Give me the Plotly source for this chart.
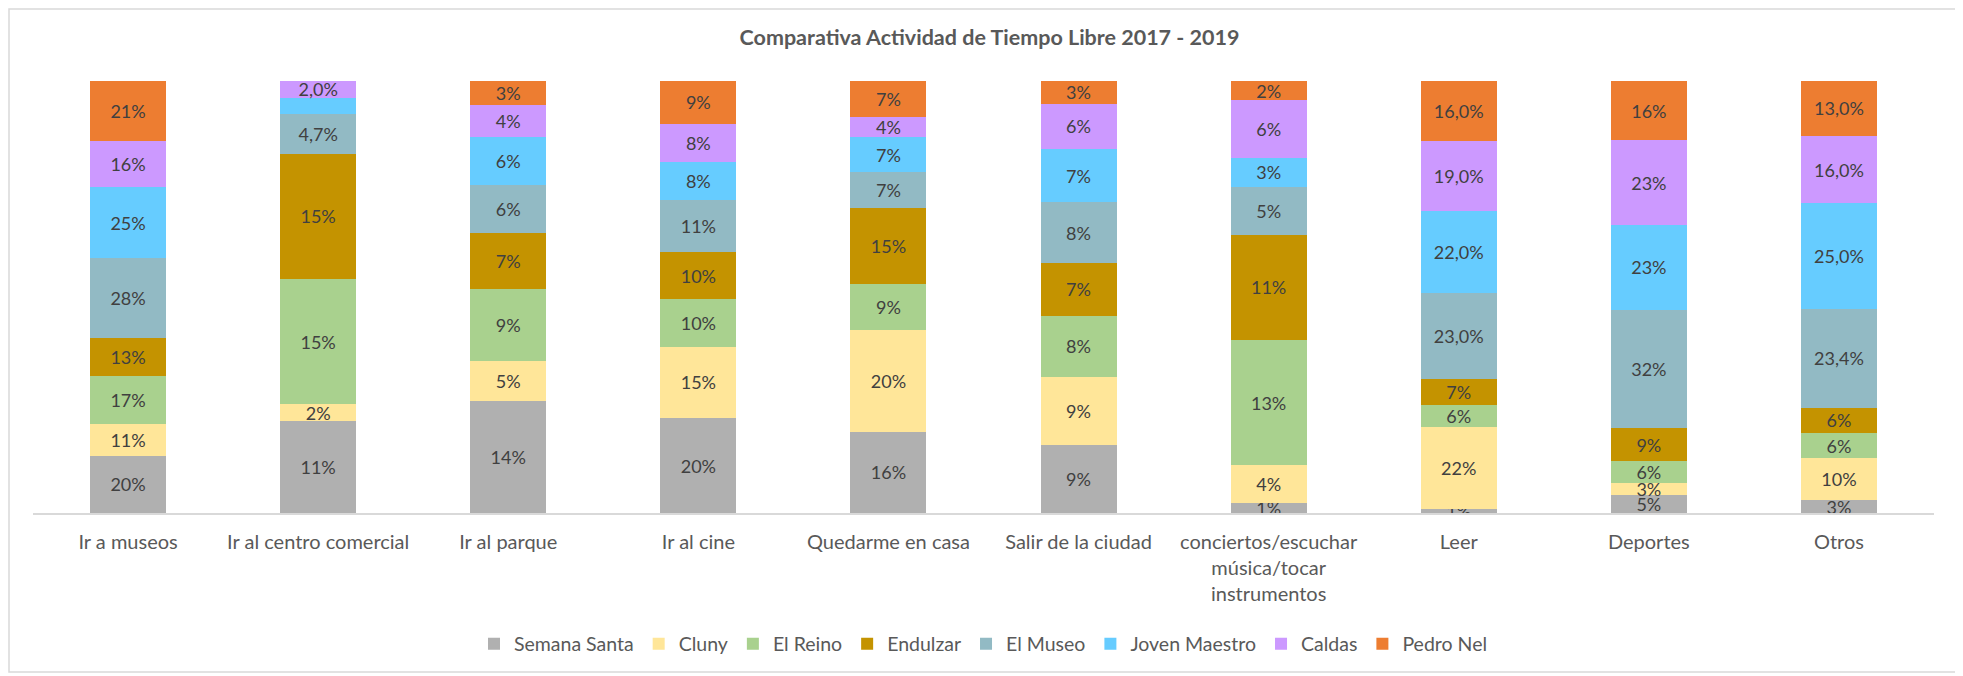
import plotly.graph_objects as go

categories = ["Ir a museos", "Ir al centro comercial", "Ir al parque", "Ir al cine",
              "Quedarme en casa", "Salir de la ciudad",
              "conciertos/escuchar<br>música/tocar<br>instrumentos",
              "Leer", "Deportes", "Otros"]

series_names = ["Semana Santa", "Cluny", "El Reino", "Endulzar", "El Museo",
                "Joven Maestro", "Caldas", "Pedro Nel"]

semana_santa  = [20, 11, 14, 20, 16, 9, 1, 1, 5, 3]
cluny         = [11, 2, 5, 15, 20, 9, 4, 22, 3, 10]
el_reino      = [17, 15, 9, 10, 9, 8, 13, 6, 6, 6]
endulzar      = [13, 15, 7, 10, 15, 7, 11, 7, 9, 6]
el_museo      = [28, 4.7, 6, 11, 7, 8, 5, 23.0, 32, 23.4]
joven_maestro = [25, 2.0, 6, 8, 7, 7, 3, 22.0, 23, 25.0]
caldas        = [16, 2.0, 4, 8, 4, 6, 6, 19.0, 23, 16.0]
pedro_nel     = [21, 0, 3, 9, 7, 3, 2, 16.0, 16, 13.0]

lbl_semana_santa  = ["20%", "11%", "14%", "20%", "16%", "9%", "1%", "1%", "5%", "3%"]
lbl_cluny         = ["11%", "2%", "5%", "15%", "20%", "9%", "4%", "22%", "3%", "10%"]
lbl_el_reino      = ["17%", "15%", "9%", "10%", "9%", "8%", "13%", "6%", "6%", "6%"]
lbl_endulzar      = ["13%", "15%", "7%", "10%", "15%", "7%", "11%", "7%", "9%", "6%"]
lbl_el_museo      = ["28%", "4,7%", "6%", "11%", "7%", "8%", "5%", "23,0%", "32%", "23,4%"]
lbl_joven_maestro = ["25%", "", "6%", "8%", "7%", "7%", "3%", "22,0%", "23%", "25,0%"]
lbl_caldas        = ["16%", "2,0%", "4%", "8%", "4%", "6%", "6%", "19,0%", "23%", "16,0%"]
lbl_pedro_nel     = ["21%", "", "3%", "9%", "7%", "3%", "2%", "16,0%", "16%", "13,0%"]

colors = ["#B0B0B0", "#FFE699", "#A9D18E", "#C49300", "#92BAC4", "#66CCFF", "#CC99FF", "#ED7D31"]

values = [semana_santa, cluny, el_reino, endulzar, el_museo, joven_maestro, caldas, pedro_nel]
labels = [lbl_semana_santa, lbl_cluny, lbl_el_reino, lbl_endulzar, lbl_el_museo,
          lbl_joven_maestro, lbl_caldas, lbl_pedro_nel]

FONT = "Lato"
fig = go.Figure()
for name, vals, lbls, col in zip(series_names, values, labels, colors):
    fig.add_trace(go.Bar(
        name=name, x=categories, y=vals, text=lbls,
        textposition="inside", insidetextanchor="middle", textangle=0,
        textfont=dict(family=FONT, size=18, color="#404040"),
        marker=dict(color=col, line=dict(width=0)),
        hoverinfo="skip",
    ))

# page body has an 8px margin; target positions below are screen pixels
OFF = 8
W, H = 1963, 676
L, R, T, B = 33 - OFF, 29 + OFF, 81 - OFF, 163 + OFF
pw, ph = W - L - R, H - T - B

def px_x(x):
    return (x - OFF - L) / pw

def px_y(y):
    return (H - B - (y - OFF)) / ph

fig.update_layout(
    width=W, height=H,
    barmode="stack", barnorm="percent", bargap=0.6,
    margin=dict(l=L, r=R, t=T, b=B, autoexpand=False),
    paper_bgcolor="white", plot_bgcolor="white",
    font=dict(family=FONT, color="#595959"),
    uniformtext=dict(minsize=18, mode="show"),
    title=dict(text="<b>Comparativa Actividad de Tiempo Libre 2017 - 2019</b>",
               x=0.5, xanchor="center", y=1 - (37 - OFF) / H, yanchor="middle",
               font=dict(family=FONT, size=21.5, color="#595959")),
    xaxis=dict(showline=True, linecolor="#D9D9D9", linewidth=1.5, ticks="",
               tickfont=dict(family=FONT, size=20, color="#595959"),
               ticklabelstandoff=10, showgrid=False, zeroline=False, automargin=False),
    yaxis=dict(range=[0, 100], visible=False, showgrid=False, zeroline=False, automargin=False),
    legend=dict(orientation="h", x=0.5, xanchor="center", y=px_y(644), yanchor="middle",
                font=dict(family=FONT, size=19.5, color="#595959"),
                traceorder="normal", itemwidth=30),
    shapes=[dict(type="rect", xref="paper", yref="paper",
                 x0=px_x(9), x1=px_x(1958), y0=px_y(672), y1=px_y(9),
                 line=dict(color="#D9D9D9", width=1.5), fillcolor="rgba(0,0,0,0)",
                 layer="below")],
)

fig.write_html("out.html")
